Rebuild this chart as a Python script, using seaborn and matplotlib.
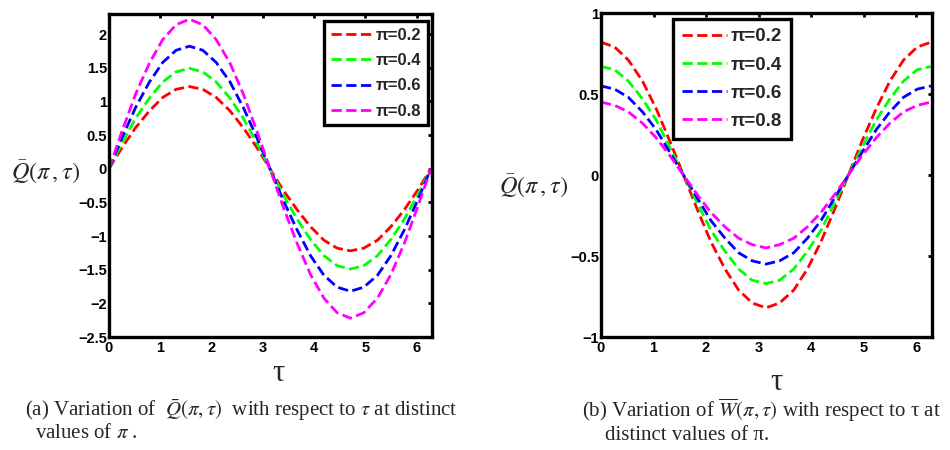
import numpy as np
import pandas as pd
import seaborn as sns
import matplotlib
matplotlib.use("Agg")
import matplotlib.pyplot as plt

# ---- data -------------------------------------------------------------
tau = [0.0, 0.26, 0.52, 0.79, 1.05, 1.31, 1.57, 1.83, 2.09, 2.36, 2.62, 2.88,
       3.14, 3.40, 3.67, 3.93, 4.19, 4.45, 4.71, 4.97, 5.24, 5.50, 5.76, 6.02, 6.28]

pi_labels = ["π=0.2", "π=0.4", "π=0.6", "π=0.8"]
colors = ["#ff0000", "#00ff00", "#0000ff", "#ff00ff"]

# Q(pi, tau)
q_02 = [0, 0.32, 0.61, 0.86, 1.06, 1.18, 1.22, 1.18, 1.06, 0.86, 0.61, 0.32, 0,
        -0.32, -0.61, -0.86, -1.06, -1.18, -1.22, -1.18, -1.06, -0.86, -0.61, -0.32, 0]
q_04 = [0, 0.39, 0.75, 1.05, 1.29, 1.44, 1.49, 1.44, 1.29, 1.05, 0.75, 0.39, 0,
        -0.39, -0.75, -1.05, -1.29, -1.44, -1.49, -1.44, -1.29, -1.05, -0.75, -0.39, 0]
q_06 = [0, 0.47, 0.91, 1.29, 1.58, 1.76, 1.82, 1.76, 1.58, 1.29, 0.91, 0.47, 0,
        -0.47, -0.91, -1.29, -1.58, -1.76, -1.82, -1.76, -1.58, -1.29, -0.91, -0.47, 0]
q_08 = [0, 0.57, 1.11, 1.57, 1.92, 2.14, 2.22, 2.14, 1.92, 1.57, 1.11, 0.57, 0,
        -0.57, -1.11, -1.57, -1.92, -2.14, -2.22, -2.14, -1.92, -1.57, -1.11, -0.57, 0]

# W(pi, tau)
w_02 = [0.82, 0.79, 0.71, 0.58, 0.41, 0.21, 0, -0.21, -0.41, -0.58, -0.71, -0.79, -0.82,
        -0.79, -0.71, -0.58, -0.41, -0.21, 0, 0.21, 0.41, 0.58, 0.71, 0.79, 0.82]
w_04 = [0.67, 0.65, 0.58, 0.47, 0.34, 0.17, 0, -0.17, -0.34, -0.47, -0.58, -0.65, -0.67,
        -0.65, -0.58, -0.47, -0.34, -0.17, 0, 0.17, 0.34, 0.47, 0.58, 0.65, 0.67]
w_06 = [0.55, 0.53, 0.48, 0.39, 0.28, 0.14, 0, -0.14, -0.28, -0.39, -0.48, -0.53, -0.55,
        -0.53, -0.48, -0.39, -0.28, -0.14, 0, 0.14, 0.28, 0.39, 0.48, 0.53, 0.55]
w_08 = [0.45, 0.43, 0.39, 0.32, 0.23, 0.12, 0, -0.12, -0.23, -0.32, -0.39, -0.43, -0.45,
        -0.43, -0.39, -0.32, -0.23, -0.12, 0, 0.12, 0.23, 0.32, 0.39, 0.43, 0.45]

left_yticks = [-2.5, -2, -1.5, -1, -0.5, 0, 0.5, 1, 1.5, 2]
right_yticks = [-1, -0.5, 0, 0.5, 1]
xticks = [0, 1, 2, 3, 4, 5, 6]


def long_form(series):
    frames = []
    for lab, vals in zip(pi_labels, series):
        frames.append(pd.DataFrame({"tau": tau, "value": vals, "pi": lab}))
    return pd.concat(frames, ignore_index=True)


df_q = long_form([q_02, q_04, q_06, q_08])
df_w = long_form([w_02, w_04, w_06, w_08])

# ---- style ------------------------------------------------------------
sns.set_theme(style="white")
plt.rcParams["font.family"] = ["Liberation Sans", "DejaVu Sans"]
plt.rcParams["mathtext.fontset"] = "stix"

fig = plt.figure(figsize=(9.5, 4.5), dpi=100)
ax1 = fig.add_axes([0.1147, 0.2511, 0.340, 0.718])
ax2 = fig.add_axes([0.6326, 0.2511, 0.3484, 0.720])


def style_axes(ax, ylim, yticks):
    ax.set_xlim(0, 6.3)
    ax.set_ylim(*ylim)
    ax.set_xticks(xticks)
    ax.set_yticks(yticks)
    ax.set_xticklabels([f"{t:g}" for t in xticks])
    ax.set_yticklabels([f"{t:g}".replace("-", "\u2212") for t in yticks])
    for sp in ax.spines.values():
        sp.set_visible(True)
        sp.set_color("black")
        sp.set_linewidth(2.4)
    ax.tick_params(direction="in", length=3, width=2, top=True, right=True,
                   colors="black", labelsize=10.5)
    ax.tick_params(axis="y", pad=1.5)
    ax.tick_params(axis="x", pad=3)
    for lab in ax.get_xticklabels() + ax.get_yticklabels():
        lab.set_fontweight("bold")
    ax.set_xlabel("")
    ax.set_ylabel("")


for ax, df in [(ax1, df_q), (ax2, df_w)]:
    sns.lineplot(data=df, x="tau", y="value", hue="pi", palette=colors,
                 linestyle="--", linewidth=2.0, legend=False, ax=ax)

style_axes(ax1, (-2.5, 2.3), left_yticks)
style_axes(ax2, (-1, 1), right_yticks)

leg1 = ax1.legend(ax1.lines, pi_labels, loc="upper right",
                  bbox_to_anchor=(0.988, 0.978), borderaxespad=0,
                  prop={"weight": "bold", "size": 12}, handlelength=2.5,
                  labelspacing=0.62, handletextpad=0.2, borderpad=0.4,
                  fancybox=False, framealpha=1)
leg2 = ax2.legend(ax2.lines, pi_labels, loc="upper left",
                  bbox_to_anchor=(0.2175, 0.981), borderaxespad=0,
                  prop={"weight": "bold", "size": 13.5}, handlelength=2.4,
                  labelspacing=0.59, handletextpad=0.2, borderpad=0.49,
                  fancybox=False, framealpha=1)
for leg in (leg1, leg2):
    leg.get_frame().set_edgecolor("black")
    leg.get_frame().set_linewidth(2.4)

# axis labels
fig.text(0.048, 0.618, r"$\bar{Q}(\pi\,,\tau)$", fontsize=17.5,
         ha="center", va="center")
fig.text(0.562, 0.586, r"$\bar{Q}(\pi\,,\tau)$", fontsize=17.5,
         ha="center", va="center")
fig.text(0.2926, 0.171, "τ", fontsize=22, family="Liberation Serif",
         ha="center", va="center")
fig.text(0.8168, 0.150, "τ", fontsize=22, family="Liberation Serif",
         ha="center", va="center")

# captions
cap_kw = dict(fontsize=15, family="Liberation Serif", ha="left", va="center")
fig.text(0.0263, 0.0889,
         r"(a) Variation of  $\bar{Q}(\pi,\tau)$  with respect to $\tau$ at distinct",
         **cap_kw)
fig.text(0.0368, 0.036, r"values of $\pi$ .", **cap_kw)
fig.text(0.6126, 0.0889,
         r"(b) Variation of $\overline{W}(\pi,\tau)$ with respect to τ at",
         **cap_kw)
fig.text(0.6368, 0.033, "distinct values of π.", **cap_kw)

fig.savefig("out.png", dpi=100)
